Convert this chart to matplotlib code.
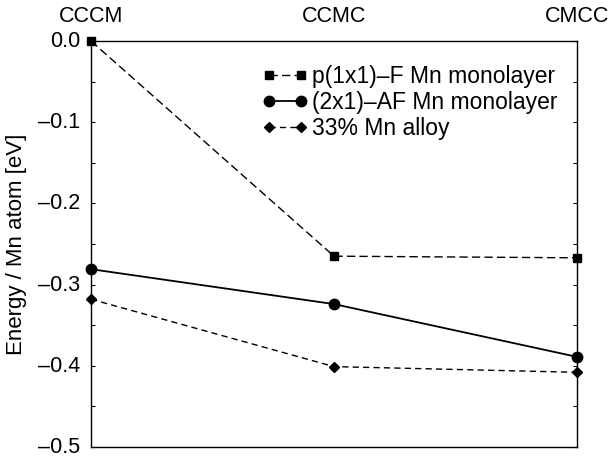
import matplotlib
matplotlib.use("Agg")
import matplotlib.pyplot as plt
from matplotlib.ticker import MultipleLocator
from matplotlib.transforms import ScaledTranslation

plt.rcParams['font.family'] = ['Liberation Sans', 'DejaVu Sans']

configs = ["CCCM", "CCMC", "CMCC"]
ferro = [0.0, -0.265, -0.267]
antiferro = [-0.281, -0.324, -0.389]
alloy = [-0.318, -0.401, -0.408]
yticks = [0.0, -0.1, -0.2, -0.3, -0.4, -0.5]

fig = plt.figure(figsize=(6.1, 4.57), dpi=100)
ax = fig.add_axes([91/610, 1 - 447/457, (577-91)/610, (447-41)/457])
x = list(range(len(configs)))
ax.plot(x, ferro, color='black', ls=(0, (6, 3)), lw=1.0, marker='s', ms=5.5,
        label='p(1x1)\u2013F Mn monolayer', clip_on=False)
ax.plot(x, antiferro, color='black', ls='-', lw=1.3, marker='o', ms=7.5,
        label='(2x1)\u2013AF Mn monolayer', clip_on=False)
ax.plot(x, alloy, color='black', ls=(0, (4.5, 3)), lw=1.0, marker='D', ms=5.5,
        label='33% Mn alloy', clip_on=False)

ax.set_xlim(0, 2)
ax.set_ylim(-0.5, 0.0)
ax.set_xticks(x)
ax.set_xticklabels(configs)
ax.xaxis.tick_top()
ax.tick_params(axis='x', length=0, pad=10, labelsize=15.5)
ax.set_yticks(yticks)
ax.set_yticklabels([f"{v:.1f}".replace('-', '\u2013') for v in yticks])
ax.yaxis.set_minor_locator(MultipleLocator(0.05))
ax.tick_params(axis='y', which='both', direction='in', left=True, right=True,
               labelsize=15.5, length=3, width=0.8, pad=8)
shift = ScaledTranslation(0, 2/100, fig.dpi_scale_trans)
for lab in ax.get_yticklabels():
    lab.set_transform(lab.get_transform() + shift)
ax.set_ylabel('Energy / Mn atom [eV]', fontsize=16, labelpad=8)
for s in ax.spines.values():
    s.set_linewidth(1.0)

ax.legend(loc='upper left', bbox_to_anchor=(262/610, 1 - 65/457),
          bbox_transform=fig.transFigure, frameon=False, numpoints=2,
          borderpad=0, borderaxespad=0,
          handlelength=2.0, handletextpad=0.2, fontsize=16.5, labelspacing=0.13)

fig.savefig('out.png', dpi=100)
